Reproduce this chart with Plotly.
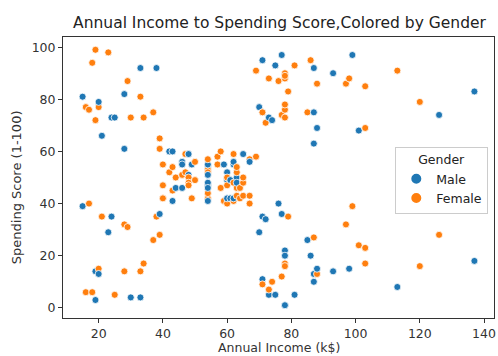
import plotly.graph_objects as go

# Mall customers: gender, annual income (k$), spending score (1-100)
gender = (
    "M M F F F F F F M F M F F F M M F M M F M M F M F M F M F F "
    "M F M M F F F F F F F M M F F F F F F F F M F M F M F M F M "
    "M M F F M M F F M F M F F F M M F M F F M M M F F M F F F F "
    "M F M F M M F F M M F F F M M M M F F M F F F F F F F M F F "
    "M F F F M M M M M M F F M F M F F M F M M M M F F M M F M F "
    "F F M F F F M F M F F F M F M F M F F M M M M M F F M M M M "
    "F F M F F M F M F F F F M F F F F M M M"
).split()

income = [
    15, 15, 16, 16, 17, 17, 18, 18, 19, 19, 19, 19, 20, 20, 20, 20, 21, 21, 23, 23,
    24, 24, 25, 25, 28, 28, 28, 28, 29, 29, 30, 30, 33, 33, 33, 33, 34, 34, 37, 37,
    38, 38, 39, 39, 39, 39, 40, 40, 40, 40, 42, 42, 43, 43, 43, 43, 44, 44, 46, 46,
    46, 46, 47, 47, 48, 48, 48, 48, 48, 48, 49, 49, 50, 50, 54, 54, 54, 54, 54, 54,
    54, 54, 54, 54, 54, 54, 57, 57, 58, 58, 59, 59, 60, 60, 60, 60, 60, 60, 61, 61,
    62, 62, 62, 62, 62, 62, 63, 63, 63, 63, 63, 63, 64, 64, 65, 65, 65, 65, 67, 67,
    67, 67, 69, 69, 70, 70, 71, 71, 71, 71, 71, 71, 72, 72, 73, 73, 73, 73, 74, 74,
    75, 75, 76, 76, 77, 77, 77, 77, 78, 78, 78, 78, 78, 78, 78, 78, 78, 78, 78, 78,
    79, 79, 81, 81, 85, 85, 86, 86, 87, 87, 87, 87, 87, 87, 88, 88, 88, 88, 93, 93,
    97, 97, 98, 98, 99, 99, 101, 101, 103, 103, 103, 103, 113, 113, 120, 120, 126, 126, 137, 137,
]

score = [
    39, 81, 6, 77, 40, 76, 6, 94, 3, 72, 14, 99, 15, 77, 13, 79, 35, 66, 29, 98,
    35, 73, 5, 73, 14, 82, 32, 61, 31, 87, 4, 73, 4, 92, 14, 81, 17, 73, 26, 75,
    35, 92, 36, 61, 28, 65, 55, 47, 42, 42, 52, 60, 54, 60, 45, 41, 50, 46, 51, 46,
    56, 55, 52, 59, 51, 59, 50, 48, 59, 47, 55, 42, 49, 56, 47, 54, 53, 48, 52, 42,
    51, 55, 41, 44, 57, 46, 58, 55, 60, 46, 55, 41, 49, 40, 42, 52, 47, 50, 42, 49,
    41, 48, 59, 55, 56, 42, 50, 46, 43, 48, 52, 54, 42, 46, 48, 50, 43, 59, 43, 57,
    56, 40, 58, 91, 29, 77, 35, 95, 11, 75, 9, 75, 34, 71, 5, 88, 7, 73, 10, 72,
    5, 93, 40, 87, 12, 97, 36, 74, 22, 90, 17, 88, 20, 76, 16, 89, 1, 78, 1, 73,
    35, 83, 5, 93, 26, 75, 20, 95, 27, 63, 13, 75, 10, 92, 13, 86, 15, 69, 14, 90,
    32, 86, 15, 88, 39, 97, 24, 68, 17, 85, 23, 69, 8, 91, 16, 79, 28, 74, 18, 83,
]

x_ticks = [20, 40, 60, 80, 100, 120, 140]
y_ticks = [0, 20, 40, 60, 80, 100]

palette = {"Male": "#1f77b4", "Female": "#ff7f0e"}
labels = {"M": "Male", "F": "Female"}
point_colors = [palette[labels[g]] for g in gender]

fig = go.Figure()

# all points in one trace so they stack in row order
fig.add_trace(go.Scatter(
    x=income, y=score, mode="markers", showlegend=False,
    marker=dict(size=7, color=point_colors, line=dict(color="white", width=0.8)),
))

# legend entries
for name in ["Male", "Female"]:
    fig.add_trace(go.Scatter(
        x=[None], y=[None], mode="markers", name=name,
        marker=dict(size=8, color=palette[name], line=dict(color="white", width=0.8)),
    ))

axis_common = dict(
    showgrid=False, zeroline=False, showline=True, mirror=True,
    linecolor="#333333", linewidth=1, ticks="outside", ticklen=4,
    tickcolor="#333333", tickfont=dict(size=12.5, color="#333333"),
)

fig.update_layout(
    width=498, height=356,
    margin=dict(l=63, r=2, t=37, b=38),
    paper_bgcolor="white", plot_bgcolor="white",
    font=dict(family="DejaVu Sans", color="#333333"),
    title=dict(
        text="Annual Income to Spending Score,Colored by Gender",
        x=(63 + 496) / 2 / 498, xanchor="center", y=1 - 23 / 356, yanchor="middle",
        font=dict(size=15.5, color="#222222"),
    ),
    xaxis=dict(range=[8.9, 143.1], tickvals=x_ticks, **axis_common),
    yaxis=dict(range=[-3.9, 103.9], tickvals=y_ticks, **axis_common),
    legend=dict(
        x=0.771, y=0.609, xanchor="left", yanchor="top",
        bgcolor="rgba(255,255,255,0.8)", bordercolor="#cccccc", borderwidth=1,
        font=dict(size=12.5, color="#222222"),
        title=dict(text="     Gender", font=dict(size=12.5, color="#222222")),
        itemsizing="constant",
    ),
    annotations=[
        dict(text="Annual Income (k$)", xref="paper", yref="paper",
             x=0.5, y=-(347 - 318) / 281, xanchor="center", yanchor="middle",
             showarrow=False, font=dict(size=12.5, color="#333333")),
        dict(text="Spending Score (1-100)", xref="paper", yref="paper",
             x=-(63 - 16) / 433, y=(318 - 187) / 281, xanchor="center", yanchor="middle",
             textangle=-90, showarrow=False, font=dict(size=13, color="#333333")),
    ],
)

fig.write_html("out.html")
